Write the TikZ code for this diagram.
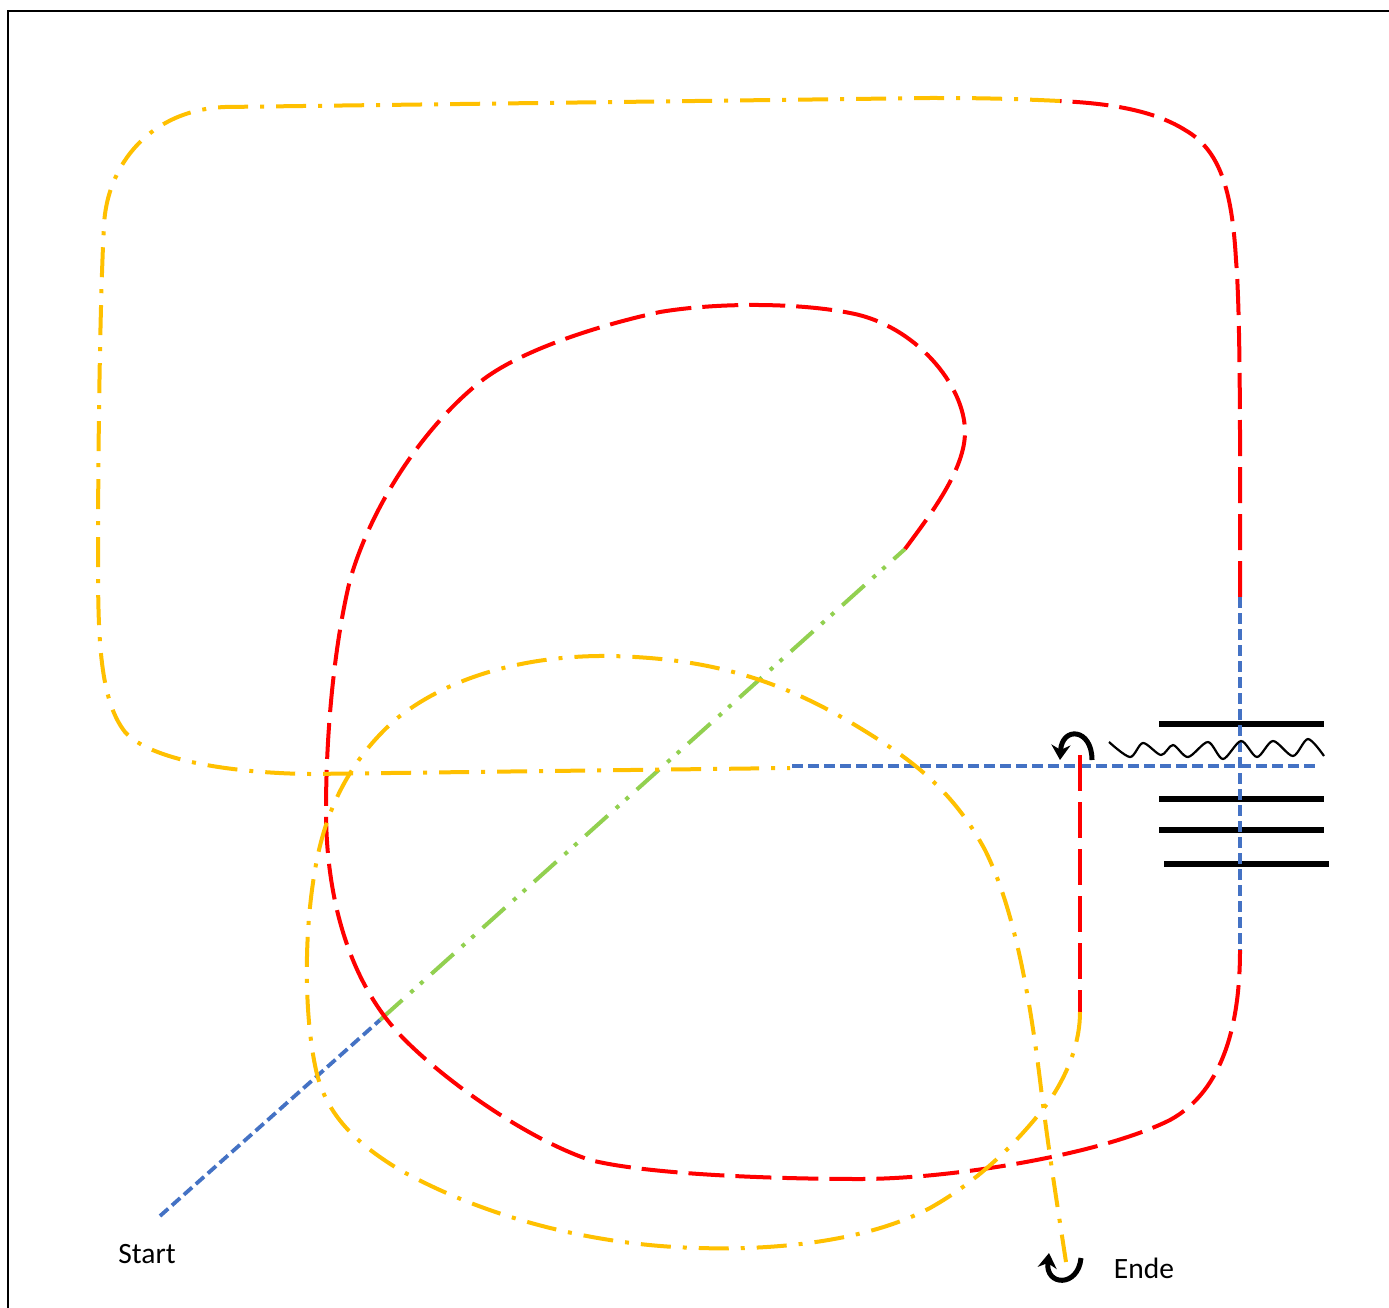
\documentclass[tikz,border=0pt]{standalone}
\usepackage{fontspec}
\setmainfont{Carlito}
\usetikzlibrary{arrows.meta}
\definecolor{routered}{HTML}{FF0000}
\definecolor{routeyellow}{HTML}{FFC000}
\definecolor{routeblue}{HTML}{4472C4}
\definecolor{routegreen}{HTML}{92D050}
\tikzset{
redroute/.style={draw=routered, line width=4pt, dash pattern=on 36pt off 11pt},
yellowroute/.style={draw=routeyellow, line width=4pt, dash pattern=on 30pt off 12pt on 4pt off 12pt},
greenroute/.style={draw=routegreen, line width=4pt, dash pattern=on 30pt off 11pt on 4pt off 9pt on 4pt off 11pt},
blueroute/.style={draw=routeblue, line width=3.8pt, dash pattern=on 11pt off 5pt},
barline/.style={line width=5.5pt},
turnarrow/.style={line width=5pt, -{Stealth[length=15pt,width=19pt]}},
caption/.style={font=\fontsize{29.5}{34}\selectfont}
}

\begin{document}
\begin{tikzpicture}[x=1pt,y=-1pt]
	\useasboundingbox (0,0) rectangle (1389,1308);
	\draw[line width=2.4pt] (8,1308) -- (8,11) -- (1389,11);
	\coordinate (start) at (160,1216);
	\coordinate (fork) at (380,1020);
	\coordinate (bend) at (905,549);
	\coordinate (rightup) at (1240,597);
	\coordinate (rightdown) at (1240,950);
	\coordinate (topjoin) at (1060,101);
	\coordinate (midjoin) at (790,768);
	\coordinate (midstart) at (792,766);
	\coordinate (midend) at (1318,766);
	\coordinate (drop) at (1080,755);
	\coordinate (dropend) at (1080,1012);
	\coordinate (finish) at (1066,1262);
	% blue and green straight parts
	\draw[blueroute] (start) -- (fork);
	\draw[greenroute] (fork) -- (bend);
	\draw[blueroute] (midstart) -- (midend);
	% red parts
	\draw[redroute] (bend) .. controls (930,515) and (965,470) .. (965,432)
		.. controls (965,385) and (915,325) .. (850,313)
		.. controls (800,303) and (720,302) .. (660,312)
		.. controls (600,325) and (520,350) .. (480,382)
		.. controls (420,430) and (370,510) .. (350,580)
		.. controls (333,650) and (326,740) .. (326,810)
		.. controls (326,900) and (350,985) .. (405,1040)
		.. controls (450,1085) and (530,1140) .. (590,1160)
		.. controls (650,1175) and (780,1179) .. (860,1179)
		.. controls (950,1179) and (1100,1155) .. (1170,1120)
		.. controls (1225,1090) and (1240,1020) .. (rightdown);
	\draw[redroute] (rightup) .. controls (1240,480) and (1241,320) .. (1236,260)
		.. controls (1232,190) and (1220,150) .. (1185,130)
		.. controls (1150,108) and (1100,103) .. (topjoin);
	\draw[redroute] (drop) -- (dropend);
	% yellow parts
	\draw[yellowroute] (topjoin) .. controls (1000,98) and (960,98) .. (930,98)
		-- (225,107)
		.. controls (150,110) and (107,165) .. (104,225)
		.. controls (100,300) and (98,450) .. (98,560)
		.. controls (98,640) and (100,700) .. (125,732)
		.. controls (150,760) and (230,773) .. (310,774)
		-- (midjoin);
	\draw[yellowroute] (dropend) .. controls (1080,1040) and (1070,1070) .. (1050,1100)
		.. controls (1020,1140) and (980,1180) .. (930,1208)
		.. controls (860,1245) and (760,1250) .. (700,1248)
		.. controls (600,1246) and (490,1220) .. (400,1170)
		.. controls (350,1140) and (325,1110) .. (316,1070)
		.. controls (305,1020) and (303,940) .. (315,870)
		.. controls (325,810) and (350,760) .. (395,720)
		.. controls (450,675) and (530,655) .. (610,656)
		.. controls (700,658) and (770,675) .. (850,722)
		.. controls (905,755) and (950,785) .. (985,850)
		.. controls (1015,910) and (1030,1000) .. (1040,1080)
		.. controls (1047,1140) and (1058,1210) .. (finish);
	% bars
	\draw[barline] (1159,724) -- (1324,724);
	\draw[barline] (1159,799) -- (1324,799);
	\draw[barline] (1159,830) -- (1324,830);
	\draw[barline] (1164,864) -- (1329,864);
	\draw[blueroute] (rightup) -- (rightdown);
	\draw[line width=2.2pt] plot[smooth] coordinates {(1109,742) (1130,757) (1143,743) (1161,755) (1173,745) (1188,757) (1208,742) (1223,759) (1241,741) (1257,757) (1273,741) (1293,756) (1308,739) (1324,756)};
	% turning arrows
	\draw[turnarrow] (1092,760) .. controls (1092,728) and (1062,726) .. (1060,760);
	\draw[turnarrow] (1081,1258) .. controls (1078,1288) and (1045,1286) .. (1049,1253);
	\node[caption] (startlabel) at (147,1254) {Start};
	\node[caption] (endlabel) at (1144,1268) {Ende};
\end{tikzpicture}
\end{document}
